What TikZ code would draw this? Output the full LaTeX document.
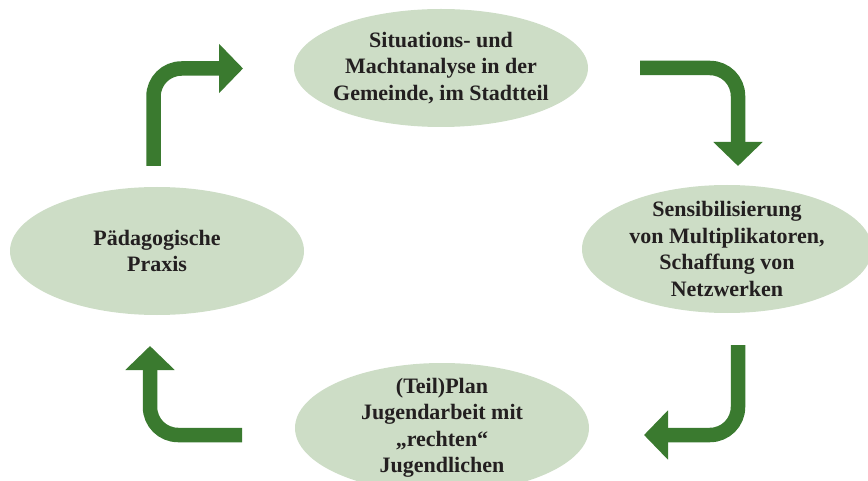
\documentclass[tikz,border=0pt]{standalone}
\usepackage{fontspec}
\setmainfont{Liberation Serif}
\usetikzlibrary{shapes.geometric,arrows.meta}
\definecolor{ellfill}{RGB}{205,221,198}
\definecolor{arrgreen}{RGB}{58,122,47}
\definecolor{txt}{RGB}{35,31,32}
\tikzset{
  stage/.style={ellipse, fill=ellfill, draw=none, inner xsep=-45pt, inner ysep=-35pt,
    align=center, text=txt, font=\fontsize{22}{26.5}\selectfont\bfseries},
  flow/.style={draw=arrgreen, line width=14.5pt, rounded corners=28pt,
    -{Triangle[width=48pt,length=24pt,fill=arrgreen]}}
}
\begin{document}
\begin{tikzpicture}[x=1pt,y=-1pt]
\useasboundingbox (0,0) rectangle (868,481);
\node[stage, minimum width=294pt, minimum height=118pt] (top) at (441,68)
  {Situations- und\\Machtanalyse in der\\Gemeinde, im Stadtteil};
\node[stage, minimum width=290pt, minimum height=128pt] (right) at (727,249)
  {Sensibilisierung\\von Multiplikatoren,\\Schaffung von\\Netzwerken};
\node[stage, minimum width=294pt, minimum height=130pt] (bottom) at (442,428)
  {(Teil)Plan\\Jugendarbeit mit\\„rechten“\\Jugendlichen};
\node[stage, minimum width=294pt, minimum height=128pt] (left) at (157,251)
  {Pädagogische\\Praxis};
% connector end points
\coordinate (a1s) at (153.5,166);
\coordinate (a1c) at (153.5,68.5);
\coordinate (a1e) at (243,68.5);
\coordinate (a2s) at (640,68);
\coordinate (a2c) at (738,68);
\coordinate (a2e) at (738,166);
\coordinate (a3s) at (738,345);
\coordinate (a3c) at (738,435);
\coordinate (a3e) at (644,435);
\coordinate (a4s) at (242,435);
\coordinate (a4c) at (150,435);
\coordinate (a4e) at (150,346);
\draw[flow] (a1s) -- (a1c) -- (a1e);
\draw[flow] (a2s) -- (a2c) -- (a2e);
\draw[flow] (a3s) -- (a3c) -- (a3e);
\draw[flow] (a4s) -- (a4c) -- (a4e);
\end{tikzpicture}
\end{document}
